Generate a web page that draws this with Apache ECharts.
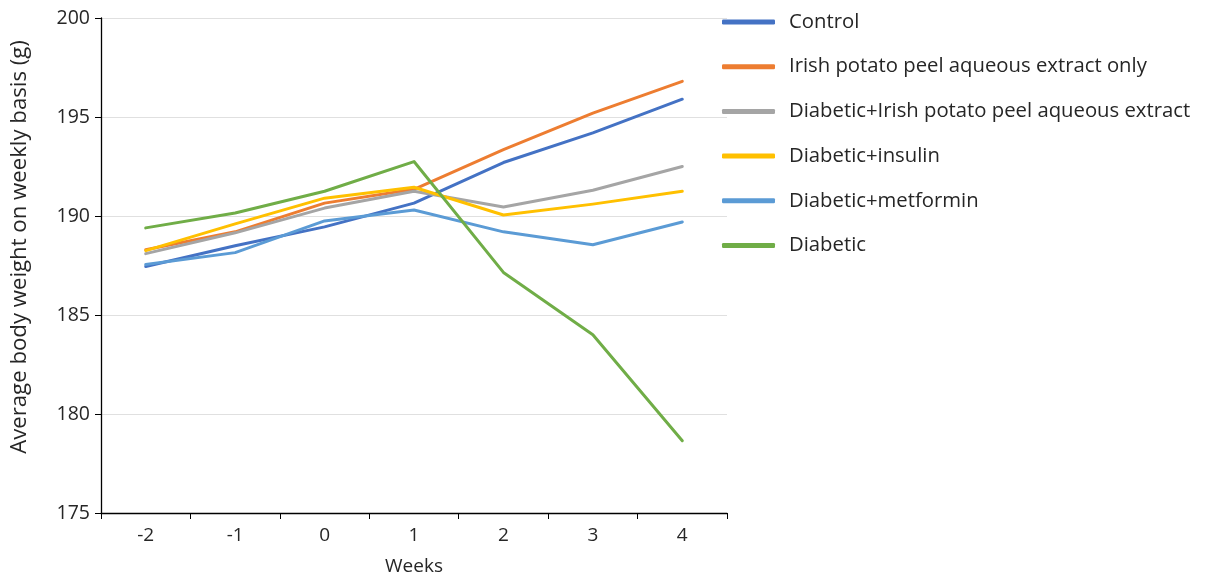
<!DOCTYPE html>
<html>
<head>
<meta charset="utf-8">
<script src="https://cdn.jsdelivr.net/npm/echarts@6/dist/echarts.min.js"></script>
<style>html,body{margin:0;padding:0;background:#fff}#c{width:1208px;height:580px}</style>
</head>
<body>
<div id="c"></div>
<script>
const categories = ['-2', '-1', '0', '1', '2', '3', '4'];
const seriesNames = ['Control', 'Irish potato peel aqueous extract only', 'Diabetic+Irish potato peel aqueous extract', 'Diabetic+insulin', 'Diabetic+metformin', 'Diabetic'];
const control = [187.45, 188.5, 189.45, 190.65, 192.7, 194.2, 195.9];
const potatoOnly = [188.3, 189.2, 190.65, 191.35, 193.35, 195.2, 196.8];
const diabeticPotato = [188.1, 189.15, 190.4, 191.25, 190.45, 191.3, 192.5];
const diabeticInsulin = [188.25, 189.6, 190.9, 191.45, 190.05, 190.6, 191.25];
const diabeticMetformin = [187.55, 188.15, 189.75, 190.3, 189.2, 188.55, 189.7];
const diabetic = [189.4, 190.15, 191.25, 192.75, 187.15, 184.0, 178.65];
const yTicks = [175, 180, 185, 190, 195, 200];

const colors = ['#4472C4', '#ED7D31', '#A5A5A5', '#FFC000', '#5B9BD5', '#70AD47'];
const allData = [control, potatoOnly, diabeticPotato, diabeticInsulin, diabeticMetformin, diabetic];
const font = '"Open Sans", "Noto Sans", sans-serif';

const chart = echarts.init(document.getElementById('c'), null, {renderer: 'canvas'});
chart.setOption({
  animation: false,
  color: colors,
  grid: {left: 101, right: 481, top: 18, bottom: 67, containLabel: false, outerBoundsMode: 'none'},
  legend: {
    orient: 'vertical',
    left: 717,
    top: 5,
    itemWidth: 53,
    itemHeight: 5,
    itemGap: 20.7,
    icon: 'roundRect',
    data: seriesNames,
    textStyle: {fontSize: 20.3, color: '#262626', fontFamily: font, padding: [0, 0, 0, 9], lineHeight: 24}
  },
  xAxis: {
    type: 'category',
    data: categories,
    boundaryGap: true,
    name: 'Weeks',
    nameLocation: 'middle',
    nameGap: 44,
    nameTextStyle: {fontSize: 19, color: '#262626', fontFamily: font},
    axisLine: {lineStyle: {color: '#000', width: 1.3}},
    axisTick: {show: true, inside: false, length: 6, alignWithLabel: false, lineStyle: {color: '#000'}},
    axisLabel: {fontSize: 19, color: '#262626', fontFamily: font, margin: 13},
    splitLine: {show: false}
  },
  yAxis: {
    type: 'value',
    min: 175,
    max: 200,
    interval: 5,
    name: 'Average body weight on weekly basis (g)',
    nameLocation: 'middle',
    nameGap: 70,
    nameTextStyle: {fontSize: 22.2, color: '#262626', fontFamily: font, padding: [0, 0, 0, 37]},
    axisLine: {show: true, lineStyle: {color: '#000', width: 1.3}},
    axisTick: {show: true, inside: false, length: 6, lineStyle: {color: '#000'}},
    axisLabel: {fontSize: 19.5, color: '#262626', fontFamily: font, margin: 11,
      formatter: v => yTicks.includes(v) ? String(v) : ''},
    splitLine: {show: true, lineStyle: {color: '#e0e0e0', width: 1}}
  },
  series: seriesNames.map((n, i) => ({
    name: n,
    type: 'line',
    data: allData[i],
    symbol: 'none',
    smooth: false,
    lineStyle: {width: 3, color: colors[i], cap: 'round', join: 'round'},
    itemStyle: {color: colors[i]},
    z: 2
  }))
});
</script>
</body>
</html>
